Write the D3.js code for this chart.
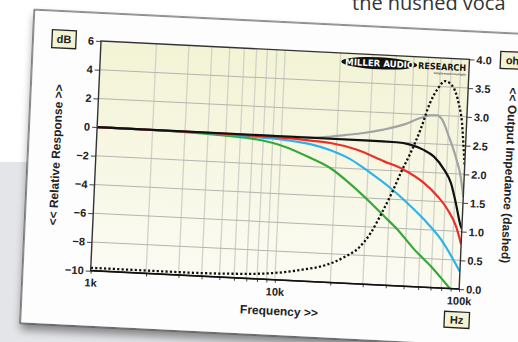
<!DOCTYPE html>
<html>
<head>
<meta charset="utf-8">
<script src="https://cdn.jsdelivr.net/npm/d3@7"></script>
<style>
  html, body { margin: 0; padding: 0; background: #fff; overflow: hidden; }
  svg { display: block; }
</style>
</head>
<body>
<svg id="chart" width="518" height="342"></svg>
<script>
// axis ticks
const freqTicks = [1000, 10000, 100000];
const freqLabels = ['1k', '10k', '100k'];
const dbTicks = [-10, -8, -6, -4, -2, 0, 2, 4, 6];
const ohmTicks = [0, 0.5, 1, 1.5, 2, 2.5, 3, 3.5, 4];

// responses, [kHz, dB]
const grayResp = [[1, 0], [10, 0], [15, 0.02], [18.5, 0.15], [22, 0.3], [27.9, 0.51], [35.5, 0.81], [45.6, 1.23], [56, 1.75], [63.3, 1.97], [68.8, 1.99], [73.6, 1.71], [80.7, 0.57], [88.8, -0.8], [95.6, -2.16], [100, -3.6]];
const greenResp = [[1, 0], [2, -0.01], [4.5, -0.12], [6.8, -0.25], [10.4, -0.7], [14.5, -1.4], [18.8, -2.05], [24.4, -3.1], [31.7, -4.33], [37.7, -5.21], [44.9, -6.09], [56, -7.42], [69.6, -8.53], [89, -10]];
const cyanResp = [[1, 0], [3, -0.02], [6.8, -0.12], [10, -0.22], [14.4, -0.45], [18.6, -0.8], [23.9, -1.35], [31, -2.24], [40.1, -3.22], [49.9, -4.2], [62.1, -5.3], [77.7, -6.63], [100, -8.8]];
const redResp = [[1, 0], [5, -0.03], [10, -0.1], [14.4, -0.2], [18.5, -0.3], [25.9, -0.67], [36.5, -1.39], [46.9, -1.9], [60.7, -2.75], [72.5, -3.63], [82.9, -4.53], [92.9, -5.66], [100, -6.9]];
const blackResp = [[1, 0], [10, 0], [30, 0], [42, -0.02], [50, -0.14], [59, -0.44], [67.6, -0.87], [77.5, -1.76], [85, -2.65], [91.4, -4.03], [98.6, -5.64], [100, -5.8]];
// output impedance, [kHz, ohm]
const impedance = [[1, 0.05], [3, 0.05], [6, 0.07], [10, 0.12], [14, 0.2], [18.7, 0.3], [23.9, 0.47], [28, 0.63], [32.2, 0.9], [36.7, 1.27], [40.8, 1.6], [45.7, 2.0], [50.5, 2.32], [56.4, 2.73], [62.7, 3.21], [69, 3.48], [74.8, 3.6], [83.4, 3.49], [89.5, 3.23], [94.4, 2.89], [97.5, 2.48], [100, 2.14]];

const W = 369, H = 230;
const bold = 'bold 11px "Liberation Sans", Arial, sans-serif';

const svg = d3.select('#chart');
const defs = svg.append('defs');

const grad = defs.append('linearGradient').attr('id', 'plotBg')
  .attr('x1', 0).attr('y1', 0).attr('x2', 0).attr('y2', 1);
grad.append('stop').attr('offset', '0%').attr('stop-color', '#f3f3d5');
grad.append('stop').attr('offset', '100%').attr('stop-color', '#fbfbf3');

const shadow = defs.append('filter').attr('id', 'shadow')
  .attr('x', '-10%').attr('y', '-10%').attr('width', '130%').attr('height', '130%');
shadow.append('feDropShadow').attr('dx', 1).attr('dy', 6).attr('stdDeviation', 4)
  .attr('flood-color', '#000').attr('flood-opacity', 0.42);

defs.append('clipPath').attr('id', 'plotClip')
  .append('rect').attr('width', W).attr('height', H);

// page behind the card
svg.append('rect').attr('x', 0).attr('y', 162).attr('width', 372).attr('height', 180)
  .attr('fill', '#e4e5e8');
svg.append('text').attr('x', 352).attr('y', 10)
  .style('font', '20px "Open Sans", sans-serif').attr('fill', '#333')
  .text('the hushed voca');

// the tilted card
const card = svg.append('g')
  .attr('transform', 'matrix(0.9986,0.0496,-0.045,0.9985,101,41)');

card.append('rect').attr('x', -68).attr('y', -28).attr('width', 620).attr('height', 314)
  .attr('fill', '#fdfdfd').attr('stroke', '#222').attr('stroke-width', 1)
  .attr('filter', 'url(#shadow)');

const x = d3.scaleLog().domain([1000, 100000]).range([0, W]);
const y = d3.scaleLinear().domain([-10, 6]).range([H, 0]);
const yR = d3.scaleLinear().domain([0, 4]).range([H, 0]);

card.append('rect').attr('width', W).attr('height', H).attr('fill', 'url(#plotBg)');

const minor = x.ticks().filter(f => freqTicks.indexOf(f) < 0);

card.append('g').selectAll('line').data(minor.concat([10000])).enter().append('line')
  .attr('x1', d => x(d)).attr('x2', d => x(d)).attr('y1', 0).attr('y2', H)
  .attr('stroke', '#d2d2c8').attr('stroke-width', 1.3);

card.append('g').selectAll('line').data(dbTicks.slice(1, -1)).enter().append('line')
  .attr('x1', 0).attr('x2', W).attr('y1', d => y(d)).attr('y2', d => y(d))
  .attr('stroke', '#b4b4b0').attr('stroke-width', 1);

// logo
const logo = card.append('g');
logo.append('ellipse').attr('cx', 279).attr('cy', 8.5).attr('rx', 38).attr('ry', 6)
  .attr('fill', '#111');
logo.append('text').attr('x', 245).attr('y', 11.8).attr('textLength', 69)
  .attr('lengthAdjust', 'spacingAndGlyphs')
  .style('font', 'bold 9px "DejaVu Sans", sans-serif').attr('fill', '#fff')
  .text('MILLER AUDIO');
logo.append('text').attr('x', 318).attr('y', 12).attr('textLength', 48)
  .attr('lengthAdjust', 'spacingAndGlyphs')
  .style('font', 'bold 9px "DejaVu Sans", sans-serif').attr('fill', '#111')
  .text('RESEARCH');
logo.append('text').attr('x', 334).attr('y', 16.5).attr('textLength', 32)
  .attr('lengthAdjust', 'spacingAndGlyphs')
  .style('font', 'bold 3px "Liberation Sans", sans-serif').attr('fill', '#333')
  .text('Getting the measure of sound quality');

// curves
const curves = card.append('g').attr('clip-path', 'url(#plotClip)');
const dbLine = d3.line().x(d => x(d[0] * 1000)).y(d => y(d[1])).curve(d3.curveMonotoneX);
const ohmLine = d3.line().x(d => x(d[0] * 1000)).y(d => yR(d[1])).curve(d3.curveMonotoneX);

const series = [
  { data: grayResp, color: '#a3a3a3' },
  { data: greenResp, color: '#36a83a' },
  { data: cyanResp, color: '#2cb3e8' },
  { data: redResp, color: '#e8312b' },
  { data: blackResp, color: '#111' },
];
series.forEach(s => {
  curves.append('path').datum(s.data).attr('d', dbLine)
    .attr('fill', 'none').attr('stroke', s.color).attr('stroke-width', 2.2)
    .attr('stroke-linejoin', 'round');
});
curves.append('path').datum(impedance).attr('d', ohmLine)
  .attr('fill', 'none').attr('stroke', '#111').attr('stroke-width', 2.3)
  .attr('stroke-dasharray', '2.2,2.2');

// axes
function styleAxis(g) {
  g.select('.domain').remove();
  g.selectAll('line').attr('stroke', '#444');
  g.selectAll('text').style('font', bold).attr('fill', '#222');
}

card.append('g')
  .call(d3.axisLeft(y).tickValues(dbTicks).tickSize(5).tickPadding(2))
  .call(styleAxis);

card.append('g').attr('transform', `translate(${W},0)`)
  .call(d3.axisRight(yR).tickValues(ohmTicks).tickSize(5).tickPadding(2).tickFormat(d3.format('.1f')))
  .call(styleAxis);

card.append('g').attr('transform', `translate(0,${H})`)
  .call(d3.axisBottom(x).tickValues(minor).tickSize(3).tickFormat(''))
  .call(styleAxis);

card.append('g').attr('transform', `translate(0,${H})`)
  .call(d3.axisBottom(x).tickValues(freqTicks).tickSize(3).tickPadding(5)
    .tickFormat((d, i) => freqLabels[i]))
  .call(styleAxis);

// plot frame
card.append('rect').attr('width', W).attr('height', H)
  .attr('fill', 'none').attr('stroke', '#333').attr('stroke-width', 1.4);
card.append('line').attr('x1', 0).attr('x2', W).attr('y1', H).attr('y2', H)
  .attr('stroke', '#111').attr('stroke-width', 1.6);

// titles
const title = 'bold 12px "Liberation Sans", Arial, sans-serif';
card.append('text').attr('transform', 'translate(-40,116) rotate(-90)')
  .attr('text-anchor', 'middle').attr('dy', '0.35em')
  .style('font', title).attr('fill', '#222').text('<< Relative Response >>');
card.append('text').attr('transform', 'translate(414,114) rotate(90)')
  .attr('text-anchor', 'middle').attr('dy', '0.35em')
  .style('font', title).attr('fill', '#222').text('<< Output Impedance (dashed)');
card.append('text').attr('x', 190).attr('y', 261)
  .attr('text-anchor', 'middle').attr('dy', '0.35em')
  .style('font', title).attr('fill', '#222').text('Frequency >>');

// unit boxes
function unitBox(cx, cy, w, h, label) {
  const g = card.append('g');
  g.append('rect').attr('x', cx - w / 2).attr('y', cy - h / 2).attr('width', w).attr('height', h)
    .attr('fill', '#f3f3d3').attr('stroke', '#222').attr('stroke-width', 1.3);
  g.append('text').attr('x', cx).attr('y', cy).attr('text-anchor', 'middle').attr('dy', '0.36em')
    .style('font', bold).attr('fill', '#222').text(label);
}
unitBox(-37, 0, 24, 18, 'dB');
unitBox(420, -1, 40, 17, 'ohms');
unitBox(368, 261, 25, 16, 'Hz');
</script>
</body>
</html>
